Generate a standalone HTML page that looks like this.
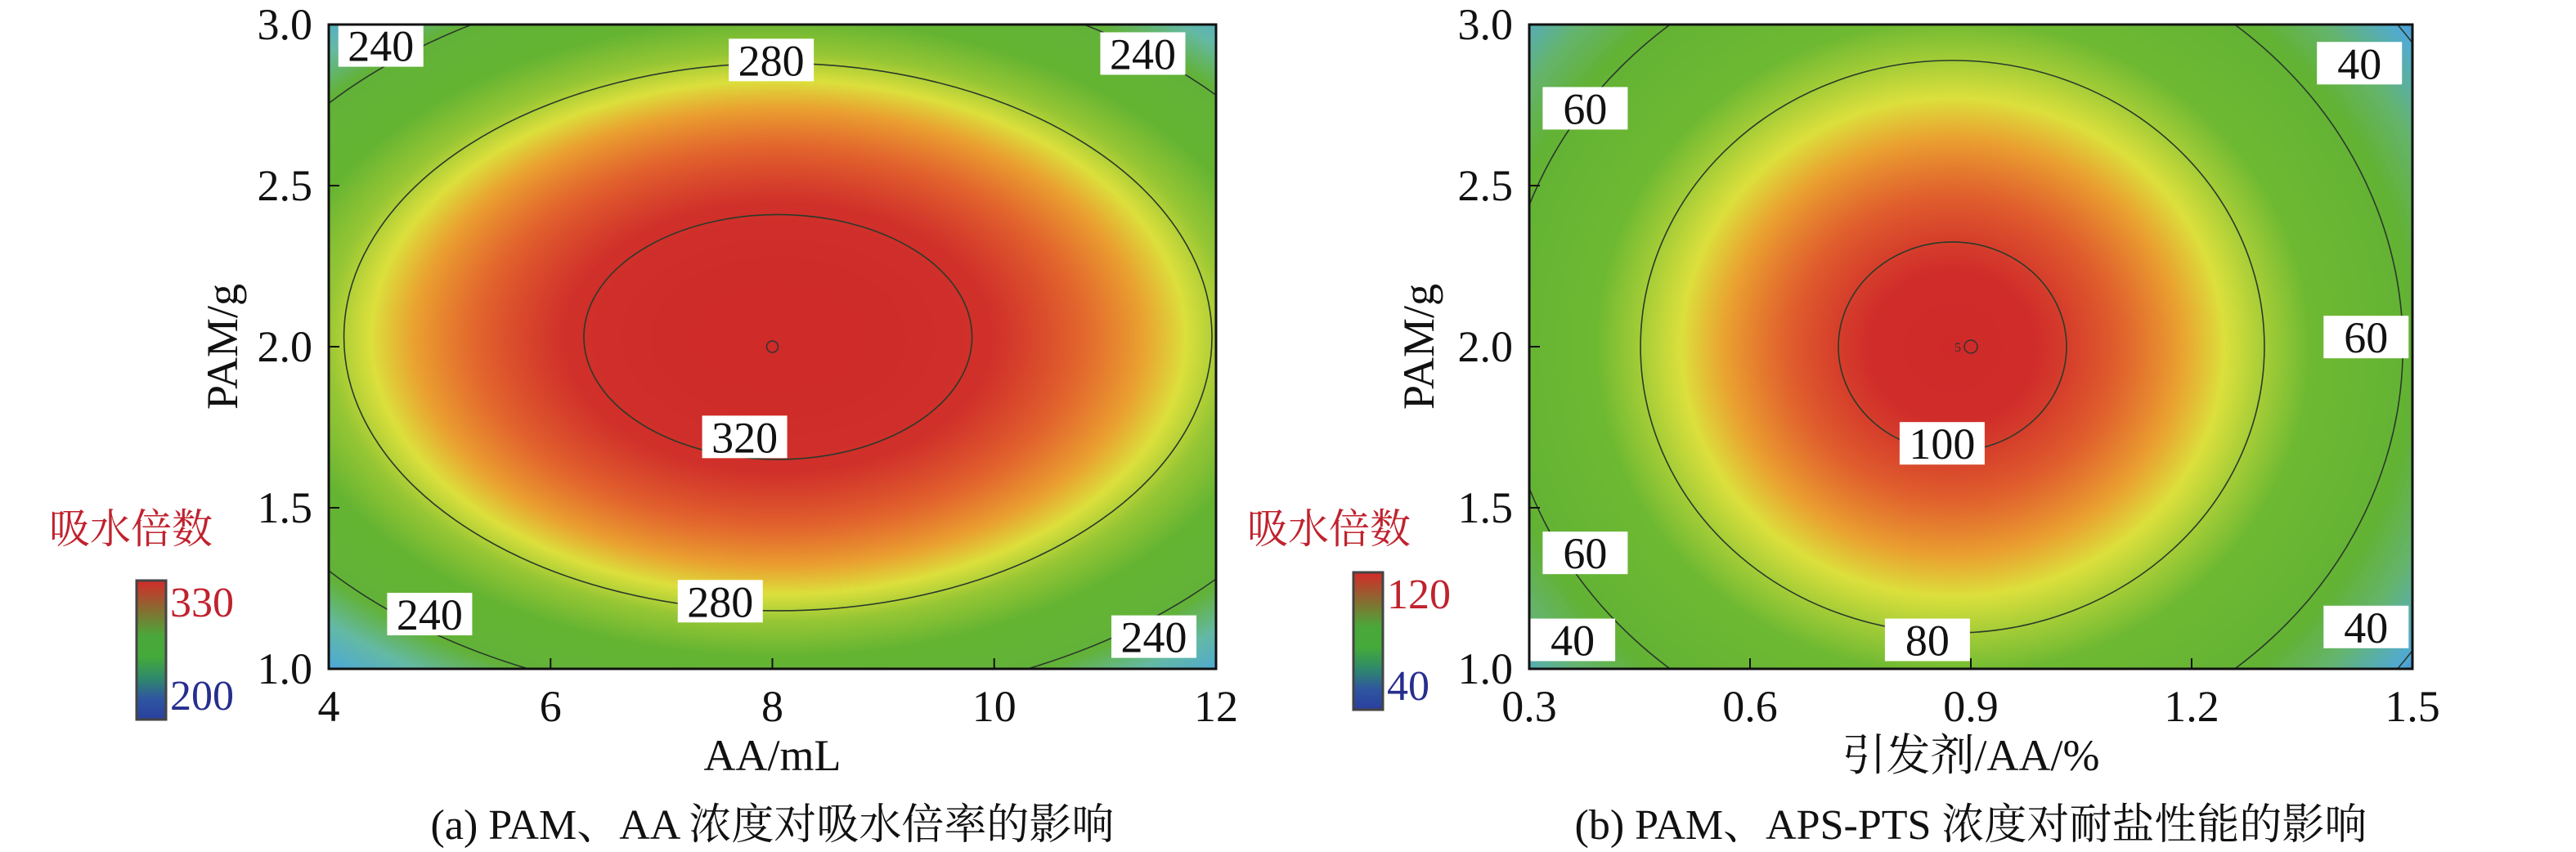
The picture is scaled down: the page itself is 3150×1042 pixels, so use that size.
<!DOCTYPE html>
<html><head><meta charset="utf-8">
<style>
html,body{margin:0;padding:0;background:#fff;}
#wrap{position:relative;width:3150px;height:1042px;overflow:hidden;background:#fff;}
canvas{position:absolute;}
svg{position:absolute;left:0;top:0;}
svg text{font-family:"Liberation Serif","Noto Serif CJK SC",serif;}
</style></head>
<body>
<div id="wrap">
<canvas id="heatA"></canvas>
<canvas id="heatB"></canvas>
<svg id="svg" width="3150" height="1042">
<defs>
<linearGradient id="cbar" x1="0" y1="1" x2="0" y2="0">
<stop offset="0" stop-color="#2a3f9e"/><stop offset="0.15" stop-color="#2f56a0"/>
<stop offset="0.3" stop-color="#2f8a6a"/><stop offset="0.45" stop-color="#44aa3a"/>
<stop offset="0.6" stop-color="#4aa83a"/><stop offset="0.8" stop-color="#8a6a30"/>
<stop offset="1" stop-color="#d42a2a"/>
</linearGradient>
<clipPath id="clipA"><rect x="402" y="30" width="1085" height="788"/></clipPath>
<clipPath id="clipB"><rect x="1870" y="30" width="1080" height="788"/></clipPath>
</defs>
</svg>
</div>
<script>
// ---- data ----
const xTicksA = [4, 6, 8, 10, 12];
const xTickLabelsA = ["4", "6", "8", "10", "12"];
const yTicks = [1.0, 1.5, 2.0, 2.5, 3.0];
const yTickLabels = ["1.0", "1.5", "2.0", "2.5", "3.0"];
const xTicksB = [0.3, 0.6, 0.9, 1.2, 1.5];
const xTickLabelsB = ["0.3", "0.6", "0.9", "1.2", "1.5"];
const contourLevelsA = [240, 280, 320];
const contourLevelsB = [40, 60, 80, 100];
// model A: peak value, centre x, centre y, scale x, scale y
const modelA = [330, 8.05, 2.03, 1.75, 0.38];
// model B: peak value, centre x, centre y, scale x, scale y, exponent
const modelB = [105, 0.875, 2.0, 0.155, 0.325, 1.6];
const labelsA = [[240,4.47,2.935],[280,7.99,2.89],[240,11.34,2.91],[320,7.75,1.72],[240,4.91,1.17],[280,7.53,1.21],[240,11.44,1.10]];
const labelsB = [[40,1.428,2.88],[60,0.376,2.74],[60,1.437,2.03],[100,0.861,1.70],[60,0.376,1.36],[40,0.359,1.09],[80,0.841,1.09],[40,1.437,1.13]];
const colorStopsA = [[200,[70,165,225]],[222,[100,185,165]],[238,[98,178,58]],[262,[100,180,50]],[276,[150,198,52]],[286,[220,224,60]],[295,[234,160,48]],[306,[226,100,45]],[318,[208,48,42]],[340,[204,38,40]]];
const colorStopsB = [[30,[40,70,175]],[40,[80,170,215]],[50,[100,180,110]],[58,[98,178,52]],[74,[110,185,50]],[80,[165,205,55]],[85,[220,224,60]],[90,[234,160,48]],[96,[224,95,45]],[102,[208,45,42]],[110,[204,38,40]]];

// ---- geometry ----
const A = {x0:402,x1:1487,y0:30,y1:818,xmin:4,xmax:12};
const B = {x0:1870,x1:2950,y0:30,y1:818,xmin:0.3,xmax:1.5};
function sx(P,v){return P.x0+(v-P.xmin)/(P.xmax-P.xmin)*(P.x1-P.x0);}
function sy(P,v){return P.y1-(v-1.0)/2.0*(P.y1-P.y0);}
function fA(x,y){const dx=(x-modelA[1])/modelA[3],dy=(y-modelA[2])/modelA[4];return modelA[0]-10*(dx*dx+dy*dy);}
function fB(x,y){const dx=(x-modelB[1])/modelB[3],dy=(y-modelB[2])/modelB[4];return modelB[0]-5*Math.pow(Math.sqrt(dx*dx+dy*dy),modelB[5]);}
function cmap(stops,v){
  if(v<=stops[0][0])return stops[0][1];
  for(let i=1;i<stops.length;i++){if(v<=stops[i][0]){const t=(v-stops[i-1][0])/(stops[i][0]-stops[i-1][0]);const a=stops[i-1][1],b=stops[i][1];return [a[0]+(b[0]-a[0])*t,a[1]+(b[1]-a[1])*t,a[2]+(b[2]-a[2])*t];}}
  return stops[stops.length-1][1];
}
function heat(id,P,f,stops){
  const c=document.getElementById(id);const w=P.x1-P.x0,h=P.y1-P.y0;
  c.width=w;c.height=h;c.style.left=P.x0+'px';c.style.top=P.y0+'px';
  const ctx=c.getContext('2d');const img=ctx.createImageData(w,h);
  for(let j=0;j<h;j++){const y=3-j/h*2;for(let i=0;i<w;i++){const x=P.xmin+i/w*(P.xmax-P.xmin);const col=cmap(stops,f(x,y));const k=(j*w+i)*4;img.data[k]=col[0];img.data[k+1]=col[1];img.data[k+2]=col[2];img.data[k+3]=255;}}
  ctx.putImageData(img,0,0);
}
heat('heatA',A,fA,colorStopsA);
heat('heatB',B,fB,colorStopsB);

const svg=document.getElementById('svg');const NS='http://www.w3.org/2000/svg';
const SERIF='"Liberation Serif","Noto Serif CJK SC",serif';
function el(tag,attrs,text){const e=document.createElementNS(NS,tag);for(const k in attrs)e.setAttribute(k,attrs[k]);if(tag==='text'&&!attrs['font-family'])e.setAttribute('font-family',SERIF);if(text!==undefined)e.textContent=text;svg.appendChild(e);return e;}

contourLevelsA.forEach(v=>{
  const r=Math.sqrt((modelA[0]-v)/10);
  const e=el('ellipse',{cx:sx(A,modelA[1]),cy:sy(A,modelA[2]),rx:r*modelA[3]/8*(A.x1-A.x0),ry:r*modelA[4]/2*(A.y1-A.y0),fill:'none',stroke:'#2a3a2a','stroke-width':1.6,'clip-path':'url(#clipA)'});
  
  
});
contourLevelsB.forEach(v=>{
  const r=Math.pow((modelB[0]-v)/5,1/modelB[5]);
  const e=el('ellipse',{cx:sx(B,modelB[1]),cy:sy(B,modelB[2]),rx:r*modelB[3]/1.2*(B.x1-B.x0),ry:r*modelB[4]/2*(B.y1-B.y0),fill:'none',stroke:'#2a3a2a','stroke-width':1.6,'clip-path':'url(#clipB)'});
  
  
});
let cc=el('circle',{cx:sx(A,8),cy:sy(A,2.0),r:7,fill:'none',stroke:'#333','stroke-width':1.5});


cc=el('circle',{cx:sx(B,0.9),cy:sy(B,2.0),r:8,fill:'none',stroke:'#333','stroke-width':1.5});


let t5=el('text',{x:sx(B,0.9)-12,y:sy(B,2.0)+6,'font-size':16,'text-anchor':'end',fill:'#333'},'5');



function labels(P,arr,pref){
  arr.forEach((L,i)=>{
    const cx=sx(P,L[1]),cy=sy(P,L[2]);
    const r=el('rect',{x:cx-52,y:cy-26,width:104,height:52,fill:'#fff'});
    
    
    const t=el('text',{x:cx,y:cy+19,'font-size':54,'text-anchor':'middle',fill:'#111'},String(L[0]));
    
    
  });
}
labels(A,labelsA,'contour-a');
labels(B,labelsB,'contour-b');

function axes(P,xt,xl,pref,xtitle,ytitleX,caption,cbX,cbW,cbY0,cbY1,cbMax,cbMin,legX){
  const f=el('rect',{x:P.x0,y:P.y0,width:P.x1-P.x0,height:P.y1-P.y0,fill:'none',stroke:'#111','stroke-width':3});
  
  
  xt.forEach((v,i)=>{
    const x=sx(P,v);
    const tk=el('line',{x1:x,y1:P.y1,x2:x,y2:P.y1-13,stroke:'#111','stroke-width':2});
    
    
    const t=el('text',{x:x,y:P.y1+64,'font-size':54,'text-anchor':'middle',fill:'#111'},xl[i]);
    
    
  });
  yTicks.forEach((v,i)=>{
    const y=sy(P,v);
    const tk=el('line',{x1:P.x0,y1:y,x2:P.x0+13,y2:y,stroke:'#111','stroke-width':2});
    
    
    const t=el('text',{x:P.x0-20,y:y+18,'font-size':54,'text-anchor':'end',fill:'#111'},yTickLabels[i]);
    
    
  });
  const cxm=(P.x0+P.x1)/2;
  let t=el('text',{x:cxm,y:942,'font-size':54,'text-anchor':'middle',fill:'#111'},xtitle);
  
  
  t=el('text',{x:0,y:0,'font-size':54,'text-anchor':'middle',fill:'#111',transform:'translate('+(ytitleX+18)+',424) rotate(-90)'},'PAM/g');
  
  
  t=el('text',{x:cxm,y:1026,'font-size':52,'text-anchor':'middle',fill:'#111'},caption);
  
  
  const cb=el('rect',{x:cbX,y:cbY0,width:cbW,height:cbY1-cbY0,fill:'url(#cbar)',stroke:'#444','stroke-width':3});
  
  
  t=el('text',{x:cbX+cbW+5,y:cbY0+44,'font-size':52,fill:'#c0222e'},cbMax);
  
  
  t=el('text',{x:cbX+cbW+5,y:cbY1-12,'font-size':52,fill:'#262e8e'},cbMin);
  
  
  t=el('text',{x:legX,y:664,'font-size':50,fill:'#c0222e','font-family':'"Noto Serif CJK SC",serif'},'吸水倍数');
  
  
}
axes(A,xTicksA,xTickLabelsA,'chart-a','AA/mL',272,'(a) PAM、AA 浓度对吸水倍率的影响',167,36,710,880,'330','200',60);
axes(B,xTicksB,xTickLabelsB,'chart-b','引发剂/AA/%',1735,'(b) PAM、APS-PTS 浓度对耐盐性能的影响',1655,36,700,868,'120','40',1525);
</script>
</body></html>
